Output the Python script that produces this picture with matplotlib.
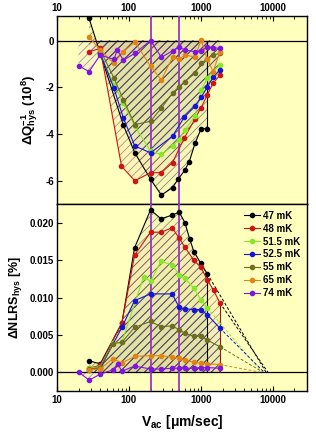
import matplotlib
matplotlib.use("Agg")
import matplotlib.pyplot as plt
from matplotlib.colors import to_rgba, to_rgb

plt.rcParams['font.family'] = ['Liberation Sans', 'DejaVu Sans']
plt.rcParams['font.weight'] = 'bold'
plt.rcParams['mathtext.fontset'] = 'custom'
plt.rcParams['mathtext.rm'] = 'Liberation Sans:bold'
plt.rcParams['mathtext.it'] = 'Liberation Sans:bold'
plt.rcParams['mathtext.bf'] = 'Liberation Sans:bold'
plt.rcParams['hatch.linewidth'] = 0.5

labels = ['47 mK', '48 mK', '51.5 mK', '52.5 mK', '55 mK', '65 mK', '74 mK']
colors = ['#000000', '#CC1515', '#86E826', '#1515D8', '#6E6E22', '#E08515', '#8015E0']

# Top panel: Delta Q^-1_hys (10^8)
q_x = [
    [28, 40, 84, 121, 200, 283, 404, 484, 600, 690, 830, 1010, 1230],
    [28, 40, 79, 121, 200, 283, 404, 590, 830, 1010, 1230, 1480, 1840],
    [40, 62, 84, 121, 200, 283, 404, 500, 600, 830, 1010, 1230, 1480, 1840],
    [40, 62, 84, 121, 200, 404, 590, 830, 1010, 1230, 1480, 1840],
    [40, 62, 84, 121, 200, 283, 404, 500, 600, 830, 1010, 1230, 1480, 1840],
    [28, 40, 62, 84, 121, 200, 283, 404, 500, 600, 830, 1010, 1230, 1480, 1840],
    [20, 28, 40, 62, 69, 84, 121, 200, 283, 404, 492, 610, 830, 1010, 1230, 1480, 1840],
]
q_y = [
    [0.95, -0.55, -3.63, -4.81, -5.94, -6.62, -6.30, -5.94, -5.55, -5.19, -4.41, -3.77, -3.79],
    [-0.48, -0.34, -5.38, -6.01, -5.66, -5.66, -5.23, -4.17, -3.35, -2.87, -2.33, -1.83, -1.48],
    [-0.55, -1.90, -2.68, -3.67, -4.74, -4.88, -4.52, -4.24, -3.82, -3.25, -2.11, -1.62, -1.33, -1.05],
    [-0.55, -2.04, -3.32, -4.52, -4.81, -4.10, -3.28, -2.82, -2.43, -2.00, -1.57, -1.26],
    [-0.41, -1.60, -2.54, -3.60, -3.46, -2.90, -2.25, -1.97, -1.76, -1.40, -0.98, -0.77, -0.62, -0.55],
    [0.15, -0.41, -0.98, -0.48, -0.06, -1.10, -1.69, -0.72, -0.81, -0.62, -0.70, 0.02, -0.80, -1.33, -0.48],
    [-1.08, -1.33, -0.62, -0.81, -0.41, -0.84, -0.55, 0.0, -0.72, -0.44, -0.28, -0.41, -0.48, -0.44, -0.27, -0.30, -0.34],
]

# Bottom panel: Delta NLRS_hys (%)
n_x = [
    [28, 40, 80, 120, 200, 280, 400, 500, 600, 700, 800, 1000, 1230],
    [28, 40, 80, 120, 200, 280, 400, 500, 600, 800, 1000, 1230, 1500, 1840],
    [28, 40, 60, 80, 160, 200, 280, 400, 500, 600, 800, 1000, 1230],
    [28, 40, 80, 120, 200, 400, 500, 600, 800, 1000, 1230, 1840],
    [28, 40, 60, 80, 120, 200, 280, 400, 500, 600, 800, 1000, 1230, 1840],
    [28, 40, 60, 80, 120, 200, 280, 400, 500, 600, 800, 1000, 1230, 1840],
    [20, 28, 40, 60, 70, 80, 120, 200, 280, 400, 500, 600, 800, 1000, 1230, 1840],
]
n_y = [
    [0.0015, 0.0011, 0.0066, 0.0167, 0.0218, 0.0206, 0.0211, 0.0215, 0.0201, 0.0179, 0.0162, 0.0146, 0.0132],
    [0.0005, 0.0009, 0.0066, 0.0157, 0.0188, 0.0188, 0.0194, 0.0180, 0.0168, 0.0150, 0.0141, 0.0124, 0.0110, 0.0093],
    [0.0005, 0.0007, 0.0039, 0.0040, 0.0128, 0.0122, 0.0149, 0.0144, 0.0131, 0.0126, 0.0113, 0.0097, 0.0086],
    [0.0003, 0.0005, 0.0060, 0.0096, 0.0105, 0.0105, 0.0087, 0.0085, 0.0084, 0.0084, 0.0077, 0.0059],
    [0.0004, 0.0006, 0.0038, 0.0040, 0.0060, 0.0068, 0.0061, 0.0062, 0.0057, 0.0052, 0.0048, 0.0048, 0.0043, 0.0034],
    [0.0003, 0.0004, 0.0018, 0.0012, 0.0021, 0.0022, 0.0022, 0.0020, 0.0019, 0.0016, 0.0013, 0.0012, 0.0011, 0.0010],
    [0.0, -0.0011, -0.0003, 0.0003, 0.0011, 0.0001, 0.0008, 0.0004, 0.0004, 0.0005, 0.0005, 0.0005, 0.0005, 0.0006, 0.0006, 0.0005],
]
# dashed extrapolation to zero (x where NLRS reaches 0)
extrap_end = [8000, 8500, 7000, 7500, 7200, 6500]

v_lines = [200, 500]
bg = '#FFFFBE'

fig = plt.figure(figsize=(3.16, 4.33), dpi=100)
ax1 = fig.add_axes([0.180, 0.529, 0.792, 0.434])
ax2 = fig.add_axes([0.180, 0.098, 0.792, 0.431])

for ax in (ax1, ax2):
    ax.set_facecolor(bg)
    ax.set_xscale('log')
    ax.set_xlim(10, 30000)
    ax.axhline(0, color='black', lw=0.9, zorder=3)
    for v in v_lines:
        ax.axvline(v, color='#9A35C8', lw=1.3, zorder=4)
    for s in ax.spines.values():
        s.set_linewidth(1.0)

def mix(c, other='#404058', f=0.7):
    a, b = to_rgb(c), to_rgb(other)
    return tuple(f * b[i] + (1 - f) * a[i] for i in range(3))

def draw(ax, xs, ys):
    for x, y, c in zip(xs, ys, colors):
        ax.fill_between(x, y, 0, facecolor=to_rgba(c, 0.035), edgecolor=(*mix(c), 0.6),
                        hatch='////', linewidth=0, zorder=1)
    for x, y, c, l in zip(xs, ys, colors, labels):
        ax.plot(x, y, '-o', color=c, lw=0.8, ms=3, label=l, zorder=5)

draw(ax1, q_x, q_y)
draw(ax2, n_x, n_y)

# vertical closing lines
ax1.plot([q_x[0][-1], q_x[0][-1]], [q_y[0][-1], 0], color='black', lw=0.8, zorder=4)
ax2.plot([n_x[0][-1], n_x[0][-1]], [n_y[0][-1], 0], color='black', lw=0.8, zorder=4)
ax2.plot([n_x[1][-1], n_x[1][-1]], [n_y[1][-1], 0], color='#8B1A1A', lw=0.8, zorder=4)

# dashed extrapolations
for i, xe in enumerate(extrap_end):
    ax2.plot([n_x[i][-1], xe], [n_y[i][-1], 0], ls='--', color='black' if i < 2 else colors[i],
             lw=0.7, dashes=(3, 2), zorder=4)

ax1.set_ylim(-7, 1.05)
ax1.set_yticks([0, -2, -4, -6])
ax1.set_yticklabels(['0', '-2', '-4', '-6'])
ax1.xaxis.tick_top()
ax1.tick_params(axis='x', which='both', top=True, bottom=False, labeltop=True, labelbottom=False,
                direction='in', labelsize=7, pad=2)
ax1.tick_params(axis='y', direction='in', labelsize=7, pad=2)
ax1.set_xticks([10, 100, 1000, 10000])
ax1.set_xticklabels(['10', '100', '1000', '10000'])
ax1.set_ylabel(r'$\Delta$Q$^{-1}_{hys}$ (10$^{8}$)', fontsize=9.5, fontweight='bold', labelpad=4)

ax2.set_ylim(-0.0025, 0.0226)
ax2.set_yticks([0.0, 0.005, 0.010, 0.015, 0.020])
ax2.set_yticklabels(['0.000', '0.005', '0.010', '0.015', '0.020'])
ax2.set_xticks([10, 100, 1000, 10000])
ax2.set_xticklabels(['10', '100', '1000', '10000'])
ax2.tick_params(axis='x', which='both', direction='in', labelsize=7, pad=3, top=False)
ax2.tick_params(axis='y', direction='in', labelsize=7, pad=2)
ax2.set_ylabel(r'$\Delta$NLRS$_{hys}$ [%]', fontsize=9, fontweight='bold', labelpad=4)
ax2.set_xlabel(r'V$_{ac}$ [$\mu$m/sec]', fontsize=10, fontweight='bold', labelpad=6)

ax2.legend(loc='upper right', frameon=False, handlelength=1.6, handletextpad=0.3,
           labelspacing=0.3, borderaxespad=0.3, prop={'weight': 'bold', 'size': 7})

fig.savefig('out.png', dpi=100)
